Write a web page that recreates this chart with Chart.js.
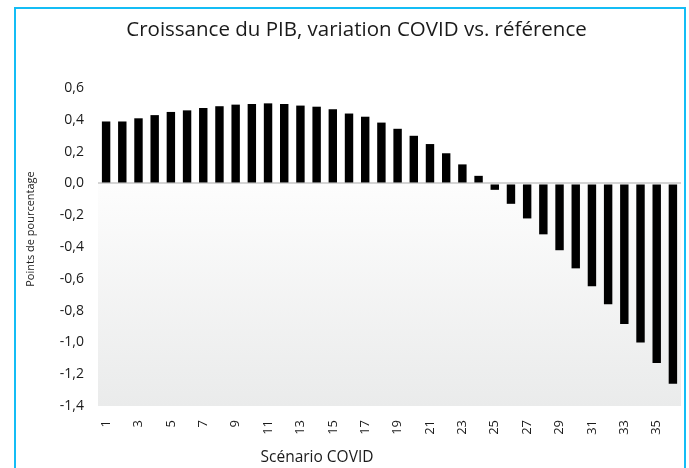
<!DOCTYPE html>
<html>
<head>
<meta charset="utf-8">
<script src="https://cdn.jsdelivr.net/npm/chart.js@4"></script>
<style>
  html, body { margin: 0; padding: 0; background: #fff; }
  .wrap { position: relative; width: 689px; height: 468px; }
  .frame {
    position: absolute; left: 14px; top: 7px; width: 668px; height: 480px;
    border: 2px solid #14BDF5; border-bottom: none; pointer-events: none;
  }
  canvas { position: absolute; left: 0; top: 0; }
</style>
</head>
<body>
<div class="wrap">
  <canvas id="myChart" width="689" height="468"></canvas>
  <div class="frame"></div>
</div>
<script>
// scenario numbers 1..36
const scenarios = [
  '1','2','3','4','5','6','7','8','9','10','11','12',
  '13','14','15','16','17','18','19','20','21','22','23','24',
  '25','26','27','28','29','30','31','32','33','34','35','36'
];

// growth change, percentage points
const variation = [
  0.39, 0.39, 0.41, 0.43, 0.45, 0.46, 0.475, 0.486, 0.496, 0.50, 0.504, 0.50,
  0.49, 0.483, 0.467, 0.44, 0.42, 0.383, 0.344, 0.30, 0.248, 0.19, 0.12, 0.048,
  -0.04, -0.128, -0.22, -0.32, -0.42, -0.534, -0.647, -0.76, -0.884, -1.0, -1.13, -1.26
];

const yMin = -1.4;
const yMax = 0.6;
const yStep = 0.2;

const xTitle = 'Scénario COVID';
const yTitle = 'Points de pourcentage';

const fontName = "'Open Sans', 'Noto Sans', sans-serif";
const textColor = '#1a1a1a';

// white above zero, grey gradient below
const bgPlugin = {
  id: 'bgPlugin',
  beforeDraw(chart) {
    const { ctx, chartArea } = chart;
    const y0 = chart.scales.y.getPixelForValue(0);
    const grad = ctx.createLinearGradient(0, y0, 0, chartArea.bottom);
    grad.addColorStop(0, '#fdfdfd');
    grad.addColorStop(1, '#eaebeb');
    ctx.save();
    ctx.fillStyle = grad;
    ctx.fillRect(chartArea.left, y0, chartArea.right - chartArea.left, chartArea.bottom - y0);
    ctx.restore();
  }
};

// axis titles sit off-centre in the original, so draw them by hand
const axisTitles = {
  id: 'axisTitles',
  afterDraw(chart) {
    const { ctx } = chart;
    ctx.save();
    ctx.fillStyle = textColor;
    ctx.textAlign = 'center';
    ctx.textBaseline = 'middle';
    ctx.font = "15.5px " + fontName;
    ctx.fillText(xTitle, 317, 458);
    ctx.translate(31, 229);
    ctx.rotate(-Math.PI / 2);
    ctx.font = "11px " + fontName;
    ctx.fillText(yTitle, 0, 0);
    ctx.restore();
  }
};

const ctx = document.getElementById('myChart').getContext('2d');
const myChart = new Chart(ctx, {
  type: 'bar',
  data: {
    labels: scenarios,
    datasets: [{
      data: variation,
      backgroundColor: '#000000',
      borderWidth: 0,
      categoryPercentage: 1.0,
      barPercentage: 0.52
    }]
  },
  options: {
    responsive: false,
    animation: false,
    layout: { padding: { left: 32, right: 8, top: 0, bottom: 2 } },
    plugins: {
      legend: { display: false },
      tooltip: { enabled: false },
      title: {
        display: true,
        text: 'Croissance du PIB, variation COVID vs. référence',
        color: textColor,
        font: { family: fontName, size: 20.5, weight: 'normal' },
        padding: { top: 18, bottom: 45.5 }
      }
    },
    scales: {
      x: {
        grid: { display: false },
        border: { display: false },
        ticks: {
          autoSkip: false,
          maxRotation: 90,
          minRotation: 90,
          padding: 6,
          color: textColor,
          font: { family: fontName, size: 13 },
          callback: (val, i) => (i % 2 === 0 ? scenarios[i] : '')
        },
        afterFit(scale) {
          scale.height = 60;
          scale.paddingLeft = 0;
          scale.paddingRight = 0;
        }
      },
      y: {
        min: yMin,
        max: yMax,
        border: { display: false },
        grid: {
          drawTicks: false,
          color: c => (Math.abs(c.tick.value) < 1e-9 ? '#d4d4d4' : 'rgba(0,0,0,0)'),
          lineWidth: 2
        },
        ticks: {
          stepSize: yStep,
          padding: 14,
          color: textColor,
          font: { family: fontName, size: 14 },
          callback: v => (Math.abs(v) < 1e-9 ? 0 : v).toFixed(1).replace('.', ',')
        },
        afterFit(scale) {
          scale.width = 66;
          scale.paddingTop = 0;
          scale.paddingBottom = 0;
        }
      }
    }
  },
  plugins: [bgPlugin, axisTitles]
});
</script>
</body>
</html>
